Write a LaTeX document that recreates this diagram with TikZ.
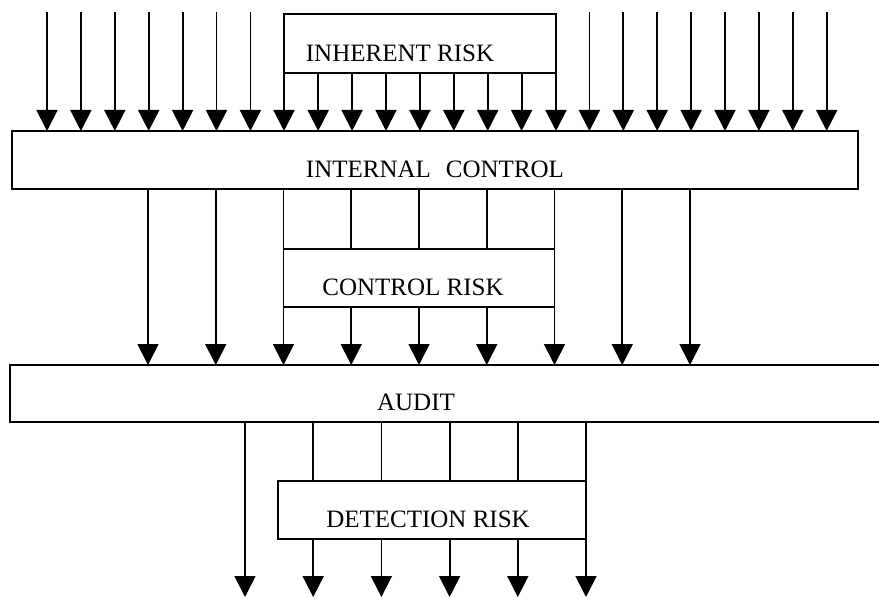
\documentclass[tikz,border=0pt]{standalone}
\usepackage{fontspec}
\setmainfont{Liberation Serif}
\usetikzlibrary{arrows.meta}
\begin{document}
\begin{tikzpicture}[x=1pt,y=-1pt,
  box/.style={draw,line width=1.8pt,inner sep=0pt,outer sep=0pt,anchor=north west},
  lbl/.style={font=\fontsize{25}{25}\selectfont,inner sep=0pt},
  arr/.style={line width=1.8pt,-{Triangle[length=21pt,width=21pt]}},
  ln/.style={line width=1.8pt}]
\clip (0,0) rectangle (879,599);
\fill[white] (0,0) rectangle (879,599);
% boxes
\node[box,minimum width=272pt,minimum height=59pt] (ir) at (284,14) {};
\node[box,minimum width=846pt,minimum height=58pt] (ic) at (12,131) {};
\node[box,minimum width=271pt,minimum height=58pt] (cr) at (283.5,249) {};
\node[box,minimum width=880pt,minimum height=57pt] (au) at (10,365) {};
\node[box,minimum width=308pt,minimum height=58pt] (dr) at (278,481) {};
% labels
\node[lbl] (irl) at (400,53) {INHERENT RISK};
\node[lbl] (icl) at (435,169) {INTERNAL\hspace{0.6em}CONTROL};
\node[lbl] (crl) at (413,287) {CONTROL RISK};
\node[lbl] (aul) at (416,402) {AUDIT};
\node[lbl] (drl) at (428,519) {DETECTION RISK};
% top arrows into INTERNAL CONTROL
\foreach \i in {0,...,6,16,17,...,23}{
  \pgfmathsetmacro\xx{47+33.9*\i}
  \coordinate (t\i) at (\xx,12);
  \draw[arr] (t\i) -- (ic.north -| t\i);
}
\draw[arr] (ir.north west) -- (ic.north -| ir.north west);
\draw[arr] (ir.north east) -- (ic.north -| ir.north east);
\foreach \i in {8,...,14}{
  \pgfmathsetmacro\xx{47+33.9*\i}
  \coordinate (s\i) at (\xx,73);
  \draw[arr] (ir.south -| s\i) -- (ic.north -| s\i);
}
% middle arrows into AUDIT
\foreach \j in {0,1,7,8}{
  \pgfmathsetmacro\xx{148+67.75*\j}
  \coordinate (m\j) at (\xx,200);
  \draw[arr] (ic.south -| m\j) -- (au.north -| m\j);
}
\draw[arr] (ic.south -| cr.west) -- (au.north -| cr.west);
\draw[arr] (ic.south -| cr.east) -- (au.north -| cr.east);
\foreach \j in {3,4,5}{
  \pgfmathsetmacro\xx{148+67.75*\j}
  \coordinate (m\j) at (\xx,200);
  \draw[ln] (ic.south -| m\j) -- (cr.north -| m\j);
  \draw[arr] (cr.south -| m\j) -- (au.north -| m\j);
}
% bottom arrows
\foreach \k in {0,...,5}{
  \pgfmathsetmacro\xx{245+68.2*\k}
  \coordinate (b\k) at (\xx,597);
}
\draw[arr] (au.south -| b0) -- (b0);
\foreach \k in {1,...,4}{
  \draw[ln] (au.south -| b\k) -- (dr.north -| b\k);
  \draw[arr] (dr.south -| b\k) -- (b\k);
}
\draw[arr] (au.south -| dr.east) -- (b5 -| dr.east);
\end{tikzpicture}
\end{document}
